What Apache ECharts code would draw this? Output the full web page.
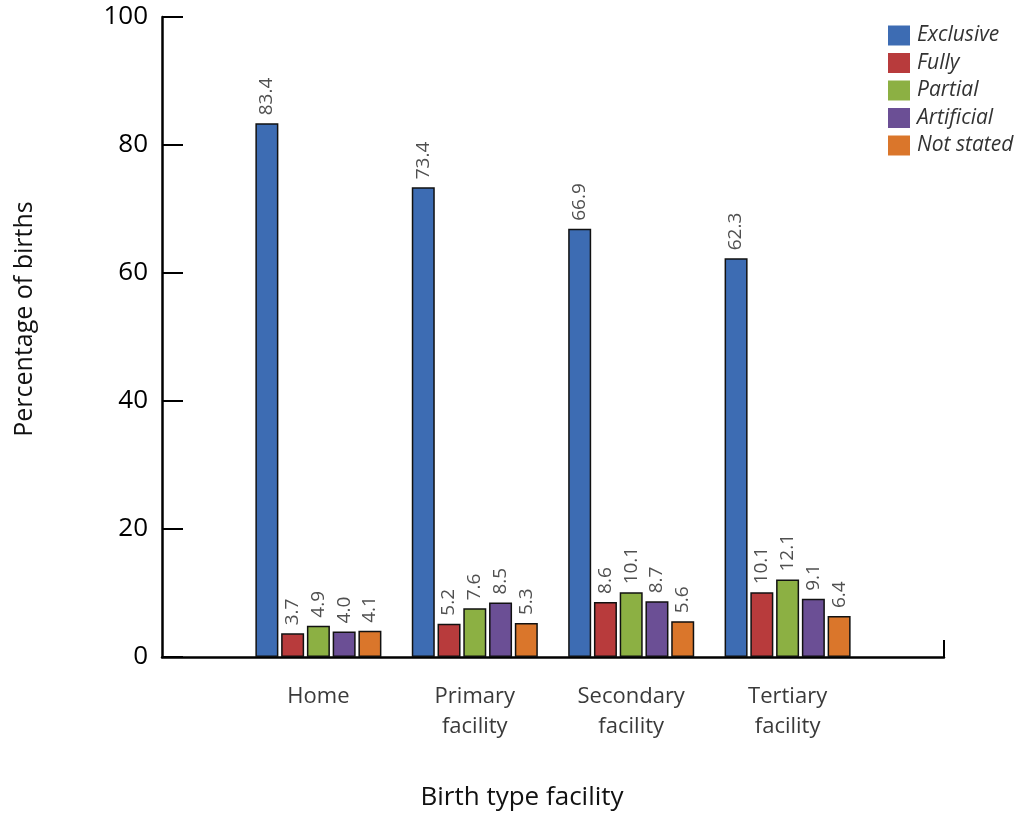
<!DOCTYPE html>
<html>
<head>
<meta charset="utf-8">
<title>Breastfeeding by birth facility</title>
<script src="https://cdn.jsdelivr.net/npm/echarts@6/dist/echarts.min.js"></script>
<style>
  html, body { margin: 0; padding: 0; background: #ffffff; }
  #chart { width: 1020px; height: 814px; }
</style>
</head>
<body>
<div id="chart"></div>
<script>
// Facility categories along the x axis
const categories = ['Home', 'Primary\nfacility', 'Secondary\nfacility', 'Tertiary\nfacility'];

// Feeding type series (percentage of births)
const seriesNames = ['Exclusive', 'Fully', 'Partial', 'Artificial', 'Not stated'];
const exclusive  = [83.4, 73.4, 66.9, 62.3];
const fully      = [3.7, 5.2, 8.6, 10.1];
const partial    = [4.9, 7.6, 10.1, 12.1];
const artificial = [4.0, 8.5, 8.7, 9.1];
const notStated  = [4.1, 5.3, 5.6, 6.4];

// Y axis ticks
const yTicks = [0, 20, 40, 60, 80, 100];

const colors = ['#3d6cb3', '#b83b3c', '#8cb043', '#6b4f95', '#da762b'];
const values = [exclusive, fully, partial, artificial, notStated];

// One empty slot at each end so the axis line runs past the outer groups
const axisCats = [''].concat(categories, ['']);
const pad = arr => ['-'].concat(arr, ['-']);

const FONT = '"Open Sans", "Noto Sans", sans-serif';

const chart = echarts.init(document.getElementById('chart'), null, { renderer: 'canvas' });

chart.setOption({
  backgroundColor: '#ffffff',
  animation: false,
  color: colors,
  grid: { left: 162, right: 76, top: 17, bottom: 157, containLabel: false, outerBoundsMode: 'none' },
  legend: {
    data: seriesNames,
    orient: 'vertical',
    left: 883,
    top: 20,
    itemWidth: 22,
    itemHeight: 20,
    itemGap: 6.5,
    textStyle: { fontFamily: FONT, fontStyle: 'italic', fontSize: 21, color: '#333333', padding: [0, 0, 0, 2] },
    itemStyle: { borderWidth: 0 },
    icon: 'rect'
  },
  xAxis: {
    type: 'category',
    data: axisCats,
    boundaryGap: false,
    name: 'Birth type facility',
    nameLocation: 'middle',
    nameGap: 128,
    nameTextStyle: { fontFamily: FONT, fontSize: 26, color: '#111111', padding: [0, 62, 0, 0] },
    axisLine: { show: true, lineStyle: { color: '#000000', width: 2.5 } },
    axisTick: {
      show: true,
      inside: true,
      length: 17,
      interval: (i) => i === axisCats.length - 1,
      lineStyle: { color: '#000000', width: 2 }
    },
    axisLabel: {
      interval: 0,
      margin: 25,
      fontFamily: FONT,
      fontSize: 22,
      lineHeight: 30,
      color: '#3a3a3a'
    },
    splitLine: { show: false }
  },
  yAxis: {
    type: 'value',
    min: yTicks[0],
    max: yTicks[yTicks.length - 1],
    interval: yTicks[1] - yTicks[0],
    name: 'Percentage of births',
    nameLocation: 'middle',
    nameRotate: 90,
    nameGap: 125,
    nameTextStyle: { fontFamily: FONT, fontSize: 25, color: '#111111', padding: [0, 0, 0, 36] },
    axisLine: { show: true, lineStyle: { color: '#000000', width: 2.5 } },
    axisTick: { show: true, inside: true, length: 21, lineStyle: { color: '#000000', width: 2 } },
    axisLabel: { margin: 14, fontFamily: FONT, fontSize: 26, color: '#000000' },
    splitLine: { show: false }
  },
  series: seriesNames.map((name, i) => ({
    name: name,
    type: 'bar',
    data: pad(values[i]),
    barWidth: 23,
    barGap: '12%',
    itemStyle: { color: colors[i], borderColor: '#111111', borderWidth: 1.5 },
    label: {
      show: true,
      position: 'top',
      rotate: 90,
      align: 'left',
      verticalAlign: 'middle',
      distance: 8,
      fontFamily: '"Liberation Sans Narrow", "Open Sans", sans-serif',
      fontSize: 19,
      color: '#505050',
      formatter: (p) => Number(p.value).toFixed(1)
    }
  }))
});
</script>
</body>
</html>
